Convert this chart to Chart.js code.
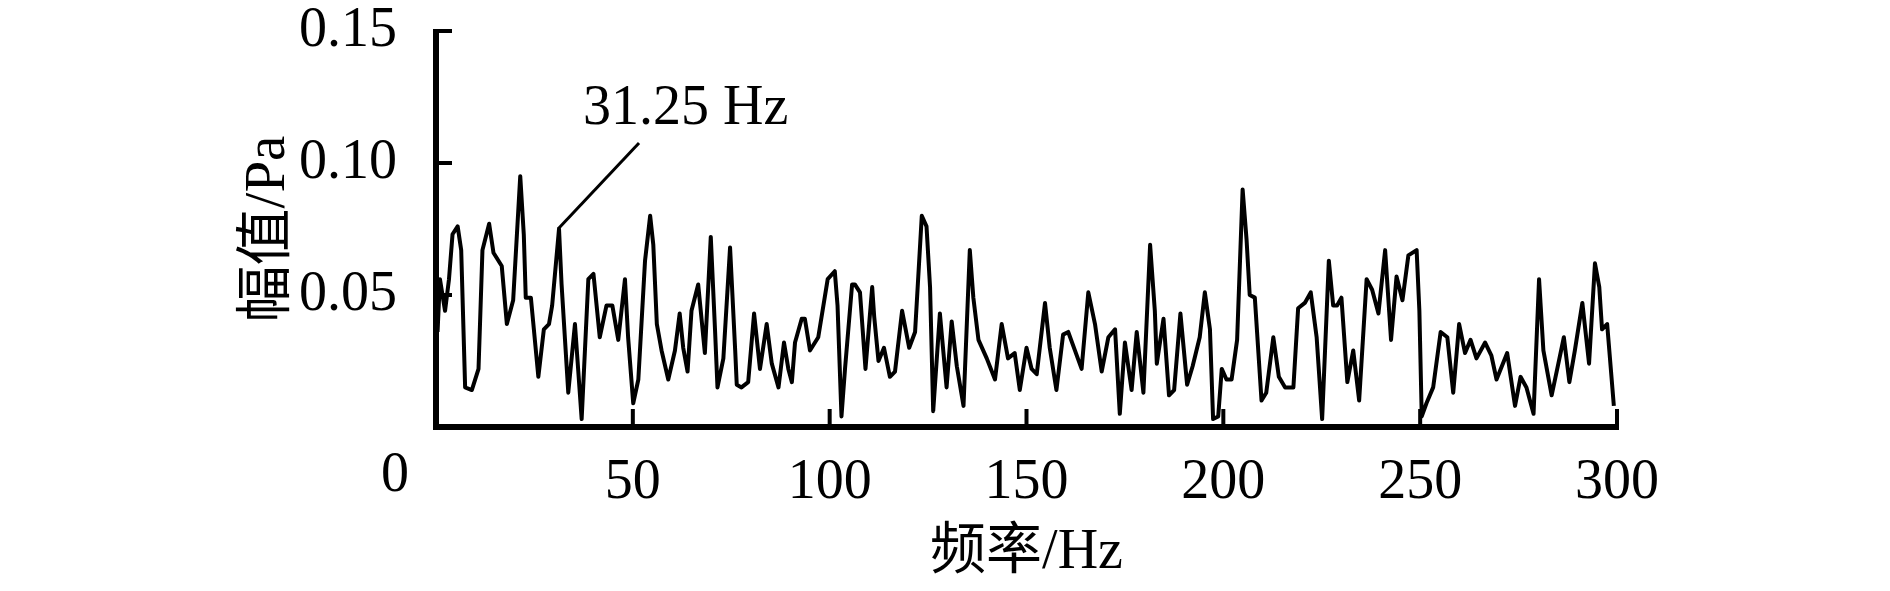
<!DOCTYPE html>
<html>
<head>
<meta charset="utf-8">
<script src="https://cdn.jsdelivr.net/npm/chart.js@4"></script>
<style>
  html, body { margin: 0; padding: 0; background: #fff; }
  #wrap { width: 1890px; height: 591px; }
</style>
</head>
<body>
<div id="wrap"><canvas id="spectrum" width="1890" height="591"></canvas></div>
<script>
// Amplitude spectrum, 0-300 Hz

const freqs = [
  0.4, 1.0, 2.3, 3.3, 4.2, 5.5, 6.4, 7.4, 9.1, 10.8, 11.8, 13.5, 14.6, 16.7, 18.0, 19.6,
  21.4, 22.3, 22.8, 24.1, 26.0, 27.4, 28.7, 29.5, 31.25, 31.9, 33.6, 35.3, 37.0, 38.7,
  40.0, 41.6, 43.3, 44.8, 46.3, 48.0, 48.8, 50.1, 51.4, 53.1, 54.4, 55.2, 56.1, 57.3,
  59.0, 60.7, 61.9, 62.8, 63.9, 64.9, 66.6, 68.3, 69.8, 70.9, 71.5, 73.0, 74.7, 76.0,
  76.4, 77.6, 79.3, 80.8, 82.3, 84.0, 85.3, 87.0, 88.4, 89.5, 90.4, 91.2, 92.9, 93.7,
  95.0, 97.1, 99.5, 101.3, 102.0, 103.0, 103.9, 105.7, 106.4, 107.7, 109.1, 110.8,
  111.3, 112.4, 113.8, 115.3, 116.6, 118.4, 120.2, 121.7, 123.4, 124.6, 125.5, 126.3,
  128.0, 129.7, 131.0, 132.3, 134.0, 135.6, 136.5, 137.8, 139.9, 142.0, 143.7, 145.3,
  147.0, 148.3, 150.0, 151.3, 152.6, 154.7, 155.9, 157.6, 159.3, 160.6, 162.3, 164.0,
  165.7, 167.4, 169.1, 170.8, 172.5, 173.7, 175.0, 176.7, 178.0, 179.7, 181.4, 182.6,
  183.1, 184.8, 186.2, 187.5, 189.1, 190.8, 192.2, 194.0, 195.3, 196.6, 197.4, 198.7,
  199.6, 200.8, 202.1, 203.5, 204.9, 205.9, 206.7, 208.0, 209.7, 210.9, 212.7, 214.1,
  215.7, 217.8, 219.0, 220.7, 222.2, 223.7, 225.1, 226.8, 227.9, 228.9, 230.0, 231.5,
  233.0, 234.5, 236.4, 237.8, 239.4, 241.1, 242.6, 244.0, 245.5, 247.0, 249.1, 249.8,
  250.4, 251.6, 253.3, 255.2, 256.9, 258.4, 259.9, 261.4, 262.8, 264.3, 266.5, 268.1,
  269.4, 272.1, 274.1, 275.5, 277.0, 278.8, 280.2, 281.3, 283.4, 285.1, 286.5, 287.9,
  289.3, 291.2, 292.9, 294.4, 295.5, 296.2, 297.5, 299.2
];

const amps = [
  0.036, 0.056, 0.044, 0.056, 0.073, 0.076, 0.067, 0.015, 0.014, 0.022, 0.067, 0.077, 0.066, 0.061, 0.039, 0.048,
  0.095, 0.073, 0.049, 0.049, 0.019, 0.037, 0.039, 0.046, 0.075, 0.054, 0.013, 0.039, 0.003, 0.056,
  0.058, 0.034, 0.046, 0.046, 0.033, 0.056, 0.034, 0.009, 0.018, 0.063, 0.080, 0.069, 0.039, 0.029,
  0.018, 0.029, 0.043, 0.030, 0.021, 0.044, 0.054, 0.028, 0.072, 0.036, 0.015, 0.026, 0.068, 0.029,
  0.016, 0.015, 0.017, 0.043, 0.022, 0.039, 0.024, 0.015, 0.032, 0.022, 0.017, 0.032, 0.041, 0.041,
  0.029, 0.034, 0.056, 0.059, 0.046, 0.004, 0.022, 0.054, 0.054, 0.051, 0.022, 0.053,
  0.042, 0.025, 0.030, 0.019, 0.021, 0.044, 0.030, 0.036, 0.080, 0.076, 0.053, 0.006,
  0.043, 0.015, 0.040, 0.023, 0.008, 0.067, 0.049, 0.033, 0.026, 0.018, 0.039, 0.026,
  0.028, 0.014, 0.030, 0.022, 0.020, 0.047, 0.030, 0.014, 0.035, 0.036, 0.029, 0.022,
  0.051, 0.039, 0.021, 0.034, 0.037, 0.005, 0.032, 0.014, 0.036, 0.013, 0.069, 0.044,
  0.024, 0.041, 0.012, 0.014, 0.043, 0.016, 0.023, 0.034, 0.051, 0.037, 0.003, 0.004,
  0.022, 0.018, 0.018, 0.033, 0.090, 0.071, 0.050, 0.049, 0.010, 0.013, 0.034, 0.019,
  0.015, 0.015, 0.045, 0.047, 0.051, 0.034, 0.003, 0.063, 0.046, 0.046, 0.049, 0.017,
  0.029, 0.010, 0.056, 0.052, 0.043, 0.067, 0.033, 0.057, 0.048, 0.065, 0.067, 0.044,
  0.004, 0.009, 0.015, 0.036, 0.034, 0.013, 0.039, 0.028, 0.033, 0.026, 0.032, 0.027,
  0.018, 0.028, 0.008, 0.019, 0.015, 0.005, 0.056, 0.029, 0.012, 0.024, 0.034, 0.017,
  0.029, 0.047, 0.024, 0.062, 0.053, 0.037, 0.039, 0.008
];

const xTicks = [0, 50, 100, 150, 200, 250, 300];
const yTicks = [0.05, 0.10, 0.15];
const peakFreq = 31.25;
const peakLabel = '31.25 Hz';

const FONT = "'Liberation Serif', 'Noto Sans CJK SC', serif";
Chart.defaults.font.family = FONT;
Chart.defaults.color = '#000';

// axes with inward ticks, the lone "0" and the peak callout
const axesPlugin = {
  id: 'axesPlugin',
  afterDraw(chart) {
    const { ctx, chartArea: a, scales: { x, y } } = chart;
    ctx.save();
    ctx.fillStyle = '#000';
    ctx.fillRect(a.left - 3, a.top - 2, 6, a.bottom - a.top + 5);
    ctx.fillRect(a.left - 3, a.bottom - 3, a.right - a.left + 5, 6);

    yTicks.forEach(v => {
      const py = y.getPixelForValue(v);
      ctx.fillRect(a.left, py - 2, 16, 4);
    });
    xTicks.filter(v => v > 0).forEach(v => {
      const px = x.getPixelForValue(v);
      ctx.fillRect(px - 2, a.bottom - 18, 4, 18);
    });

    ctx.font = '56px ' + FONT;
    ctx.textAlign = 'center';
    ctx.textBaseline = 'middle';
    ctx.fillText('0', a.left - 41, a.bottom + 49);

    const i = freqs.indexOf(peakFreq);
    const ax = x.getPixelForValue(peakFreq);
    const ay = y.getPixelForValue(amps[i]);
    ctx.strokeStyle = '#000';
    ctx.lineWidth = 3;
    ctx.beginPath();
    ctx.moveTo(ax - 1, ay);
    ctx.lineTo(ax + 80, ay - 86);
    ctx.stroke();
    ctx.textAlign = 'left';
    ctx.textBaseline = 'alphabetic';
    ctx.fillText(peakLabel, ax + 24, ay - 105);
    ctx.restore();
  }
};

new Chart(document.getElementById('spectrum'), {
  type: 'line',
  data: {
    datasets: [{
      data: freqs.map((f, i) => ({ x: f, y: amps[i] })),
      borderColor: '#000',
      borderWidth: 4,
      borderJoinStyle: 'round',
      pointRadius: 0,
      tension: 0,
      fill: false
    }]
  },
  options: {
    responsive: false,
    animation: false,
    layout: { padding: { left: 0, top: 31, right: 273, bottom: 0 } },
    plugins: { legend: { display: false }, tooltip: { enabled: false } },
    scales: {
      x: {
        type: 'linear',
        min: 0,
        max: 300,
        afterFit: s => { s.height = 164; s.paddingLeft = 0; s.paddingRight = 0; },
        afterBuildTicks: s => { s.ticks = xTicks.map(v => ({ value: v })); },
        grid: { display: false },
        border: { display: false },
        ticks: {
          autoSkip: false,
          maxRotation: 0,
          padding: 15,
          font: { size: 56 },
          callback: v => (v === 0 ? '' : v)
        },
        title: { display: true, text: '频率/Hz', font: { size: 56 }, padding: { top: 0, bottom: 4 } }
      },
      y: {
        min: 0,
        max: 0.15,
        afterFit: s => { s.width = 436; s.paddingTop = 0; s.paddingBottom = 0; },
        afterBuildTicks: s => { s.ticks = yTicks.map(v => ({ value: v })); },
        grid: { display: false },
        border: { display: false },
        ticks: {
          padding: 31,
          font: { size: 56, lineHeight: 1 },
          callback: v => v.toFixed(2)
        },
        title: { display: true, text: '幅值/Pa', font: { size: 57 }, padding: { top: 235, bottom: 0 } }
      }
    }
  },
  plugins: [axesPlugin]
});
</script>
</body>
</html>
